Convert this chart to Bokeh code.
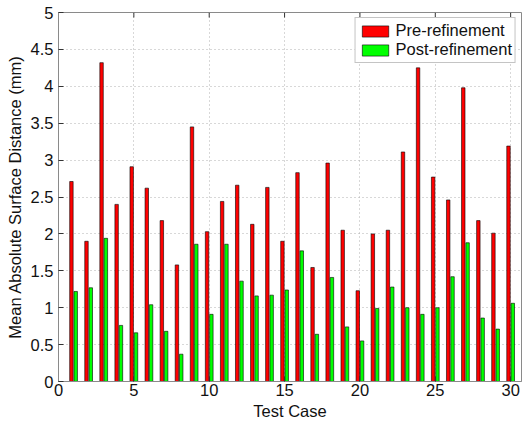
from bokeh.plotting import figure
from bokeh.models import (ColumnDataSource, Range1d, FixedTicker, Legend, LegendItem)
from bokeh.transform import dodge
from bokeh.embed import file_html
from bokeh.resources import INLINE

cases = list(range(1, 31))
pre_refinement = [2.71, 1.90, 4.32, 2.40, 2.91, 2.62, 2.18, 1.58, 3.45, 2.03,
                  2.44, 2.66, 2.13, 2.63, 1.90, 2.83, 1.545, 2.96, 2.05, 1.23,
                  2.00, 2.05, 3.11, 4.25, 2.77, 2.46, 3.98, 2.18, 2.01, 3.19]
post_refinement = [1.22, 1.27, 1.94, 0.76, 0.66, 1.04, 0.68, 0.37, 1.86, 0.91,
                   1.86, 1.36, 1.16, 1.17, 1.24, 1.77, 0.64, 1.41, 0.74, 0.55,
                   0.99, 1.28, 1.00, 0.91, 1.00, 1.42, 1.88, 0.86, 0.71, 1.06]
x_ticks = [0, 5, 10, 15, 20, 25, 30]
y_ticks = [0, 0.5, 1, 1.5, 2, 2.5, 3, 3.5, 4, 4.5, 5]
y_labels = ["0", "0.5", "1", "1.5", "2", "2.5", "3", "3.5", "4", "4.5", "5"]

FONT = "Liberation Sans"
FS = "16.5px"
AX = "#8a8a8a"
Y_MAX = 5

src = ColumnDataSource(dict(case=cases, pre=pre_refinement, post=post_refinement))

p = figure(width=522, height=429, output_backend="svg", toolbar_location=None,
           x_range=Range1d(0, 30.72), y_range=Range1d(0, Y_MAX),
           min_border_left=58, min_border_right=1, min_border_top=12, min_border_bottom=48)
p.background_fill_color = "white"
p.border_fill_color = "white"
p.outline_line_color = AX
p.outline_line_width = 1

p.xgrid.ticker = FixedTicker(ticks=x_ticks)
p.ygrid.ticker = FixedTicker(ticks=y_ticks)
for g in (p.xgrid[0], p.ygrid[0]):
    g.grid_line_color = "#b0b0b0"
    g.grid_line_dash = "1 3"
    g.grid_line_width = 1

r_pre = p.vbar(x=dodge("case", -0.143, range=p.x_range), top="pre", width=0.229, source=src,
               fill_color="#ff0000", line_color="black", line_width=0.6)
r_post = p.vbar(x=dodge("case", 0.143, range=p.x_range), top="post", width=0.229, source=src,
                fill_color="#00ff00", line_color="black", line_width=0.6)

# inward tick marks on the top edge of the box (MATLAB "box on")
p.segment(x0=x_ticks, x1=x_ticks, y0=[Y_MAX] * len(x_ticks), y1=[Y_MAX - 0.068] * len(x_ticks),
          line_color="#333333", line_width=1)

p.xaxis.ticker = FixedTicker(ticks=x_ticks)
p.yaxis.ticker = FixedTicker(ticks=y_ticks)
p.yaxis.major_label_overrides = {t: l for t, l in zip(y_ticks, y_labels)}

for ax in (p.xaxis[0], p.yaxis[0]):
    ax.axis_line_color = AX
    ax.major_tick_line_color = "#333333"
    ax.major_tick_in = 5
    ax.major_tick_out = 0
    ax.minor_tick_line_color = None
    ax.major_label_text_font = FONT
    ax.major_label_text_font_size = FS
    ax.major_label_text_color = "#111111"
    ax.axis_label_text_font = FONT
    ax.axis_label_text_font_size = FS
    ax.axis_label_text_font_style = "normal"
    ax.axis_label_text_color = "#111111"

p.xaxis.axis_label = "Test Case"
p.yaxis.axis_label = "Mean Absolute Surface Distance (mm)"
p.xaxis.major_label_standoff = 2
p.xaxis.axis_label_standoff = 3
p.yaxis.major_label_standoff = 5
p.yaxis.axis_label_standoff = 4

legend = Legend(items=[LegendItem(label="Pre-refinement", renderers=[r_pre]),
                       LegendItem(label="Post-refinement", renderers=[r_post])],
                location="top_right")
legend.label_text_font = FONT
legend.label_text_font_size = FS
legend.label_text_color = "#111111"
legend.glyph_width = 33
legend.glyph_height = 14
legend.label_height = 16
legend.label_standoff = 4
legend.padding = 3
legend.spacing = 0
legend.margin = 5
legend.border_line_color = AX
legend.border_line_width = 1
legend.background_fill_color = "white"
legend.background_fill_alpha = 1
p.add_layout(legend)

open("out.html", "w").write(file_html(p, INLINE))
